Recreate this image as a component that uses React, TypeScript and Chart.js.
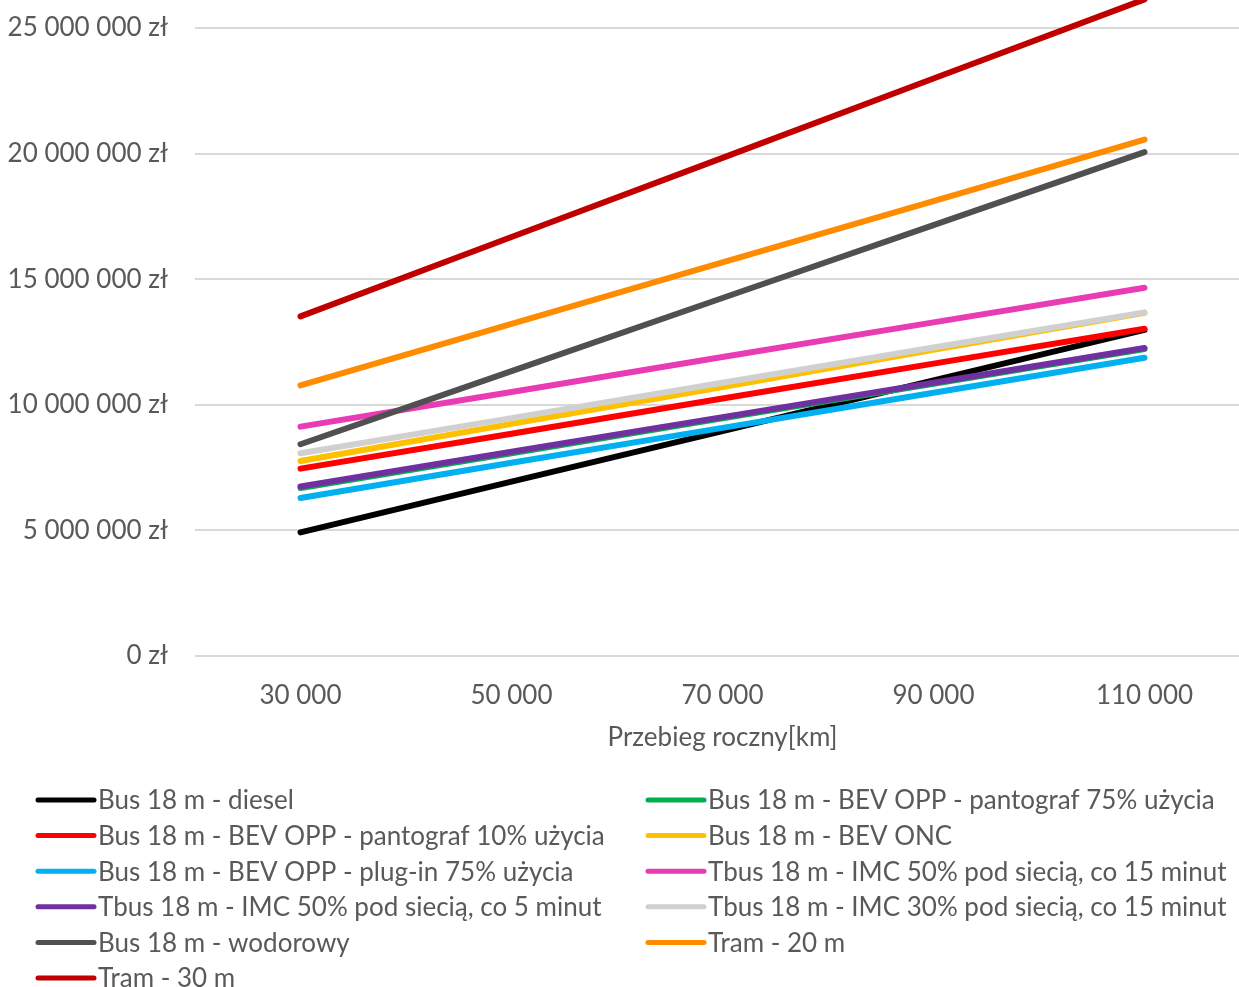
import React, { useEffect, useRef } from 'react';
import { Chart, registerables } from 'chart.js';

Chart.register(...registerables);

// Annual mileage categories (km)
const przebieg = ['30 000', '50 000', '70 000', '90 000', '110 000'];

// Total cost (zł) per vehicle variant at each annual mileage
const busDiesel = [4920000, 6940000, 8950000, 10970000, 12980000];
const busBevOppPanto75 = [6690000, 8070000, 9460000, 10840000, 12220000];
const busBevOppPanto10 = [7460000, 8850000, 10250000, 11640000, 13030000];
const busBevOnc = [7760000, 9240000, 10710000, 12190000, 13660000];
const busBevOppPlugin75 = [6290000, 7690000, 9080000, 10480000, 11870000];
const tbusImc50co15 = [9130000, 10510000, 11900000, 13280000, 14660000];
const tbusImc50co5 = [6750000, 8130000, 9510000, 10880000, 12260000];
const tbusImc30co15 = [8070000, 9470000, 10880000, 12280000, 13680000];
const busWodorowy = [8430000, 11340000, 14250000, 17150000, 20060000];
const tram20 = [10770000, 13220000, 15670000, 18110000, 20560000];
const tram30 = [13520000, 16680000, 19830000, 22990000, 26140000];

const seriesLabels = [
  'Bus 18 m - diesel',
  'Bus 18 m - BEV OPP - pantograf 75% użycia',
  'Bus 18 m - BEV OPP - pantograf 10% użycia',
  'Bus 18 m - BEV ONC',
  'Bus 18 m - BEV OPP - plug-in 75% użycia',
  'Tbus 18 m - IMC 50% pod siecią, co 15 minut',
  'Tbus 18 m - IMC 50% pod siecią, co 5 minut',
  'Tbus 18 m - IMC 30% pod siecią, co 15 minut',
  'Bus 18 m - wodorowy',
  'Tram - 20 m',
  'Tram - 30 m',
];

const seriesValues = [
  busDiesel,
  busBevOppPanto75,
  busBevOppPanto10,
  busBevOnc,
  busBevOppPlugin75,
  tbusImc50co15,
  tbusImc50co5,
  tbusImc30co15,
  busWodorowy,
  tram20,
  tram30,
];

const seriesColors = [
  '#000000',
  '#00B050',
  '#FF0000',
  '#FFC000',
  '#00B0F0',
  '#E83BB4',
  '#7030A0',
  '#D0D0D0',
  '#505050',
  '#FF8C00',
  '#C00000',
];

const FONT_FAMILY = 'Lato, "Open Sans", sans-serif';
const TEXT_COLOR = '#595959';
const FONT_SIZE = 26;

const formatZl = (v: number) =>
  String(Math.round(v)).replace(/\B(?=(\d{3})+(?!\d))/g, ' ') + ' zł';

// Two-column legend drawn under the x-axis title
const twoColumnLegend = {
  id: 'twoColumnLegend',
  afterDraw(chart: any) {
    const ctx = chart.ctx as CanvasRenderingContext2D;
    const colX = [38, 648];
    const firstRowY = 800;
    const rowStep = 35.6;
    const sampleLen = 56;
    ctx.save();
    ctx.font = `${FONT_SIZE}px ${FONT_FAMILY}`;
    ctx.textBaseline = 'middle';
    ctx.textAlign = 'left';
    chart.data.datasets.forEach((ds: any, i: number) => {
      const col = i % 2;
      const row = Math.floor(i / 2);
      const x = colX[col];
      const y = firstRowY + row * rowStep;
      ctx.strokeStyle = ds.borderColor;
      ctx.lineWidth = 5;
      ctx.lineCap = 'round';
      ctx.beginPath();
      ctx.moveTo(x, y);
      ctx.lineTo(x + sampleLen, y);
      ctx.stroke();
      ctx.fillStyle = TEXT_COLOR;
      ctx.fillText(ds.label, x + sampleLen + 4, y + 1);
    });
    ctx.restore();
  },
};

export default function App() {
  const canvasRef = useRef<HTMLCanvasElement | null>(null);

  useEffect(() => {
    if (!canvasRef.current) return;
    const n = seriesLabels.length;
    const chart = new Chart(canvasRef.current, {
      type: 'line',
      data: {
        labels: przebieg,
        datasets: seriesLabels.map((label, i) => ({
          label,
          data: seriesValues[i],
          borderColor: seriesColors[i],
          backgroundColor: seriesColors[i],
          borderWidth: 6,
          borderCapStyle: 'round' as const,
          pointRadius: 0,
          pointHoverRadius: 0,
          tension: 0,
          fill: false,
          clip: false as any,
          order: n - i,
        })),
      },
      options: {
        responsive: false,
        animation: false,
        layout: { padding: { top: 28, right: 0, bottom: 221, left: 0 } },
        plugins: {
          legend: { display: false },
          tooltip: { enabled: false },
        },
        scales: {
          x: {
            type: 'category',
            offset: true,
            grid: { display: false, drawTicks: false },
            border: { display: false },
            ticks: {
              font: { family: FONT_FAMILY, size: FONT_SIZE },
              color: TEXT_COLOR,
              padding: 24,
              maxRotation: 0,
              autoSkip: false,
            },
            title: {
              display: true,
              text: 'Przebieg roczny[km]',
              font: { family: FONT_FAMILY, size: FONT_SIZE },
              color: TEXT_COLOR,
              padding: { top: 0, bottom: 13 },
            },
            afterFit: (scale: any) => {
              scale.height = 110;
            },
          },
          y: {
            min: 0,
            max: 25000000,
            ticks: {
              stepSize: 5000000,
              callback: (v: any) => formatZl(Number(v)),
              font: { family: FONT_FAMILY, size: FONT_SIZE },
              color: TEXT_COLOR,
              padding: 27,
            },
            grid: { color: '#D9D9D9', lineWidth: 2, drawTicks: false },
            border: { display: false },
            afterFit: (scale: any) => {
              scale.width = 195;
              scale.paddingTop = 0;
              scale.paddingBottom = 0;
            },
          },
        },
      },
      plugins: [twoColumnLegend],
    });
    return () => chart.destroy();
  }, []);

  return (
    <div
      style={{
        position: 'fixed',
        left: 0,
        top: 0,
        width: 1239,
        height: 987,
        overflow: 'hidden',
        background: '#ffffff',
      }}
    >
      <canvas ref={canvasRef} width={1250} height={987} style={{ display: 'block' }} />
    </div>
  );
}
